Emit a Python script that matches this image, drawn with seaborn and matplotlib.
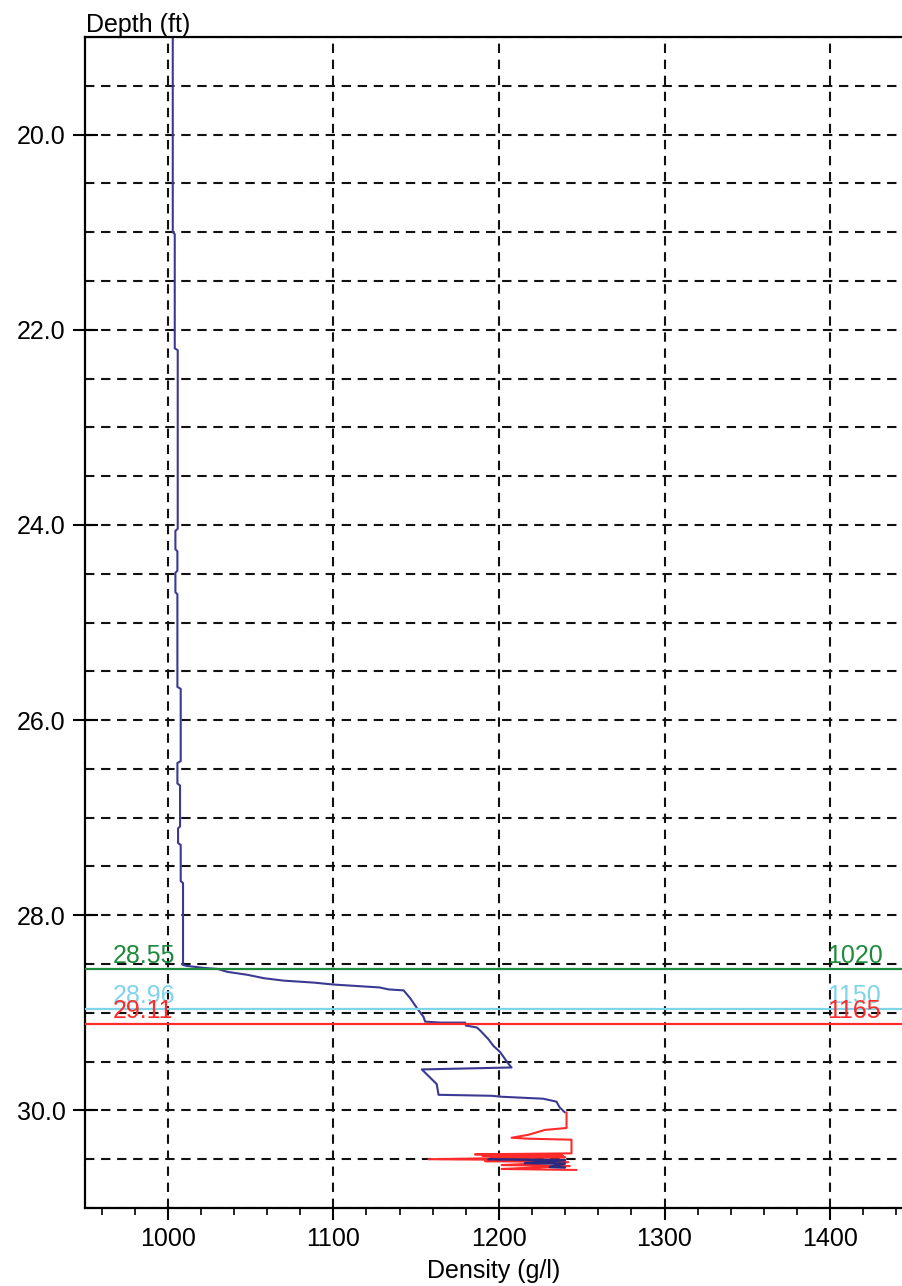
import matplotlib
matplotlib.use("Agg")
import matplotlib.pyplot as plt
import seaborn as sns
from matplotlib.ticker import MultipleLocator, FormatStrFormatter

# === Density profile (depth in ft, density in g/l) ===
blue_depth = [19.00, 21.00, 21.02, 22.19, 22.21, 24.04, 24.06, 24.25, 24.27, 24.47,
              24.49, 24.69, 24.71, 25.66, 25.68, 26.42, 26.44, 26.65, 26.67, 27.09,
              27.11, 27.26, 27.28, 27.65, 27.67, 28.51, 28.52, 28.54, 28.55, 28.58,
              28.61, 28.645, 28.67, 28.69, 28.71, 28.74, 28.76, 28.77, 28.85, 28.95,
              29.04, 29.09, 29.10, 29.10, 29.13, 29.15, 29.18, 29.27, 29.34, 29.40,
              29.52, 29.56, 29.57, 29.58, 29.73, 29.84, 29.85, 29.86, 29.88, 29.91,
              29.97, 30.02]
blue_density = [1003.0, 1003.0, 1004.2, 1004.2, 1006.0, 1006.0, 1004.6, 1004.6, 1005.8, 1005.8,
                1004.6, 1004.6, 1005.8, 1005.8, 1007.8, 1007.8, 1005.8, 1005.8, 1007.4, 1007.4,
                1006.2, 1006.2, 1007.8, 1007.8, 1009.2, 1009.2, 1011.8, 1021.9, 1030.0, 1036.0,
                1048.0, 1058.0, 1070.0, 1088.0, 1100.0, 1128.0, 1133.3, 1142.4, 1146.4, 1150.4,
                1154.4, 1155.4, 1164.5, 1179.6, 1180.0, 1186.6, 1188.6, 1193.6, 1196.7, 1200.6,
                1205.6, 1207.6, 1180.5, 1153.4, 1162.4, 1163.5, 1195.6, 1201.6, 1226.7, 1234.7,
                1236.7, 1239.8]

# blue readings visible among the red ones at the bottom
blue_tail_depth = [30.50, 30.51, 30.54, 30.545, 30.58, 30.585]
blue_tail_density = [1193.6, 1239.8, 1215.7, 1239.8, 1230.7, 1239.8]

red_depth = [30.02, 30.18, 30.20, 30.22, 30.25, 30.28, 30.29, 30.30, 30.44, 30.45,
             30.46, 30.465, 30.47, 30.475, 30.48, 30.50, 30.51, 30.52, 30.53, 30.56,
             30.57, 30.60, 30.61]
red_density = [1240.8, 1240.8, 1227.7, 1223.7, 1217.7, 1207.6, 1217.7, 1243.8, 1243.8, 1185.5,
               1238.0, 1190.0, 1239.0, 1195.0, 1240.0, 1157.4, 1240.0, 1191.6, 1241.8, 1201.6,
               1242.8, 1201.6, 1246.8]

# === Marker lines ===
marker_depth = [28.55, 28.96, 29.11]
marker_density = [1020, 1150, 1165]
marker_colors = ["#1f8a3c", "#80d4ea", "#ff2b2b"]

# === Plot setup ===
sns.set_theme(style="ticks")
plt.rcParams["font.family"] = ["Liberation Sans", "DejaVu Sans"]
plt.rcParams["text.color"] = "black"
plt.rcParams["axes.labelcolor"] = "black"
plt.rcParams["xtick.color"] = "black"
plt.rcParams["ytick.color"] = "black"
fs = 18

fig = plt.figure(figsize=(9.03, 12.86), dpi=100)
ax = fig.add_axes([85 / 903, 1 - 1208 / 1286, (903 - 85) / 903, (1208 - 37) / 1286])

sns.lineplot(x=blue_density, y=blue_depth, sort=False, estimator=None,
             color="#3a3a92", linewidth=1.5, ax=ax)
sns.lineplot(x=red_density, y=red_depth, sort=False, estimator=None,
             color="#ff2b2b", linewidth=1.5, ax=ax)
sns.lineplot(x=blue_tail_density, y=blue_tail_depth, sort=False, estimator=None,
             color="#2a2a80", linewidth=1.8, ax=ax)

for d, v, c in zip(marker_depth, marker_density, marker_colors):
    ax.axhline(d, color=c, linewidth=1.6, zorder=3)
    ax.text(967, d - 0.01, f"{d:.2f}", color=c, fontsize=fs, ha="left", va="bottom")
    ax.text(1398, d - 0.01, f"{v}", color=c, fontsize=fs, ha="left", va="bottom")

ax.set_xlim(950, 1444)
ax.set_ylim(31, 19)

ax.xaxis.set_major_locator(MultipleLocator(100))
ax.xaxis.set_minor_locator(MultipleLocator(20))
ax.yaxis.set_major_locator(MultipleLocator(2))
ax.yaxis.set_minor_locator(MultipleLocator(0.5))
ax.yaxis.set_major_formatter(FormatStrFormatter("%.1f"))

ax.grid(False)
ax.xaxis.grid(True, which="major", color="#111111", linestyle=(0, (4.5, 3.2)), linewidth=1.5)
ax.yaxis.grid(True, which="both", color="#111111", linestyle=(0, (4.5, 3.2)), linewidth=1.5)
ax.set_axisbelow(True)

ax.tick_params(axis="x", which="major", direction="out", length=8.5, width=1.5,
               labelsize=fs, pad=5, color="black", labelcolor="black")
ax.tick_params(axis="x", which="minor", direction="out", length=5, width=1.2, color="black")
ax.tick_params(axis="y", which="major", direction="inout", length=18, width=1.5,
               labelsize=fs, pad=5, color="black", labelcolor="black")
ax.tick_params(axis="y", which="minor", length=0)

for side in ["left", "bottom", "top"]:
    ax.spines[side].set_color("black")
    ax.spines[side].set_linewidth(1.6)
ax.spines["right"].set_visible(False)

ax.set_xlabel("Density (g/l)", fontsize=fs, labelpad=6, color="black")
ax.set_ylabel("")
ax.text(0.001, 1.0, "Depth (ft)", transform=ax.transAxes, fontsize=fs,
        ha="left", va="bottom", color="black")

fig.savefig("out.png", dpi=100)
plt.close(fig)
